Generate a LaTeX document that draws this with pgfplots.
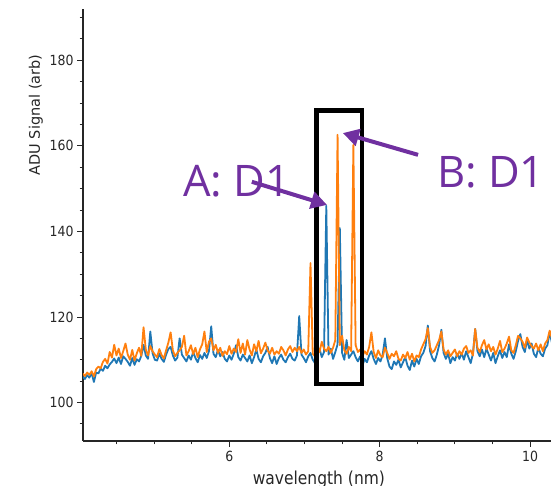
\documentclass[border=0pt]{standalone}
\usepackage{pgfplots}
\pgfplotsset{compat=1.18}
\usepackage{pgfplotstable}
\usepackage{fontspec}
\setmainfont{DejaVu Sans}
\newfontfamily\annfont{Open Sans}
\usetikzlibrary{arrows.meta}
\definecolor{mplblue}{HTML}{1F77B4}
\definecolor{mplorange}{HTML}{FF7F0E}
\definecolor{annpurple}{HTML}{7030A0}

\pgfplotstableread{
x b o
4.05 106.0 106.8
4.08 105.5 106.2
4.11 106.4 107.0
4.14 105.8 106.5
4.17 106.9 107.3
4.20 104.8 106.1
4.23 107.0 107.8
4.26 106.8 108.4
4.29 107.9 108.0
4.32 107.4 109.5
4.35 108.6 110.2
4.38 108.0 109.1
4.41 108.9 111.8
4.44 109.5 110.5
4.47 110.3 113.5
4.50 109.2 111.0
4.53 110.5 112.6
4.56 109.0 110.4
4.59 110.8 112.0
4.62 110.2 113.8
4.65 109.5 111.2
4.68 108.6 110.0
4.71 110.4 112.3
4.74 108.8 109.8
4.77 110.1 111.5
4.80 109.6 112.8
4.83 110.9 110.9
4.86 113.5 117.6
4.89 111.0 112.4
4.92 110.2 111.0
4.95 116.6 113.2
4.98 111.5 112.0
5.01 110.0 111.2
5.04 109.8 110.6
5.07 111.4 112.5
5.10 110.2 111.1
5.13 109.5 110.3
5.16 111.2 112.2
5.19 112.5 114.0
5.22 113.0 116.4
5.25 111.0 112.2
5.28 109.8 110.8
5.31 110.5 111.6
5.34 115.0 112.2
5.37 111.2 113.0
5.40 110.4 115.6
5.43 109.6 111.0
5.46 111.0 112.0
5.49 110.0 113.4
5.52 111.8 111.3
5.55 110.4 112.8
5.58 109.4 110.6
5.61 111.1 112.4
5.64 110.2 113.6
5.67 111.6 116.6
5.70 110.4 111.8
5.73 112.0 114.2
5.76 117.8 115.0
5.79 111.4 112.2
5.82 110.6 113.5
5.85 112.3 111.6
5.88 110.8 112.8
5.91 111.8 110.9
5.94 110.2 112.0
5.97 109.6 111.3
6.00 111.0 113.2
6.03 110.0 111.4
6.06 111.4 112.6
6.09 113.4 111.8
6.12 110.6 114.8
6.15 109.8 111.6
6.18 111.2 113.8
6.21 110.4 111.2
6.24 109.6 114.6
6.27 111.0 112.4
6.30 109.2 111.0
6.33 110.6 113.6
6.36 112.4 112.0
6.39 110.2 114.4
6.42 109.4 111.5
6.45 110.8 112.6
6.48 111.6 114.0
6.51 113.0 112.2
6.54 110.4 111.4
6.57 109.2 112.8
6.60 110.8 111.2
6.63 109.0 112.0
6.66 110.4 111.4
6.69 111.2 113.0
6.72 110.0 112.2
6.75 109.4 111.0
6.78 110.6 112.4
6.81 111.4 113.2
6.84 110.2 111.8
6.87 109.8 112.8
6.90 111.0 112.0
6.93 120.2 113.0
6.96 111.2 111.6
6.99 110.4 112.4
7.02 109.4 111.2
7.05 110.8 112.0
7.08 111.6 132.6
7.11 110.0 111.4
7.14 109.2 110.8
7.17 111.4 113.2
7.20 112.6 111.8
7.23 110.6 114.2
7.26 111.8 112.6
7.29 146.0 112.0
7.32 111.2 113.0
7.35 112.6 111.6
7.38 110.2 112.8
7.41 111.8 114.6
7.44 113.6 162.6
7.47 140.8 113.4
7.50 111.6 115.6
7.53 110.0 112.2
7.56 114.6 111.4
7.59 110.4 113.0
7.62 111.2 112.0
7.65 112.0 160.2
7.68 110.6 113.4
7.71 109.6 111.8
7.74 110.8 112.4
7.77 108.6 110.8
7.80 110.2 112.0
7.83 109.4 111.2
7.86 111.0 113.0
7.89 112.0 116.4
7.92 110.2 111.8
7.95 109.0 110.4
7.98 110.4 112.2
8.01 109.6 111.0
8.04 111.2 110.6
8.07 115.0 112.8
8.10 110.4 111.6
8.13 108.4 110.2
8.16 107.8 111.4
8.19 109.6 110.8
8.22 108.8 112.0
8.25 110.0 110.2
8.28 108.2 109.8
8.31 109.4 111.2
8.34 110.6 110.4
8.37 108.6 111.8
8.40 107.6 110.0
8.43 109.8 111.4
8.46 108.4 109.6
8.49 110.2 111.0
8.52 109.0 110.6
8.55 110.8 112.4
8.58 111.6 113.6
8.61 113.2 114.8
8.64 118.0 117.4
8.67 112.0 113.0
8.70 110.4 111.6
8.73 109.6 112.2
8.76 111.2 113.4
8.79 113.4 114.6
8.82 117.0 116.6
8.85 111.6 112.4
8.88 110.2 111.2
8.91 111.4 112.2
8.94 109.2 110.8
8.97 110.6 111.6
9.00 109.8 112.4
9.03 111.4 110.8
9.06 110.2 112.0
9.09 111.6 111.2
9.12 110.0 112.6
9.15 112.0 113.2
9.18 110.6 111.6
9.21 109.2 112.2
9.24 111.4 111.0
9.27 117.2 117.2
9.30 112.0 112.8
9.33 110.8 111.8
9.36 112.4 113.4
9.39 110.6 114.6
9.42 112.6 112.4
9.45 111.2 113.6
9.48 109.8 112.0
9.51 111.6 113.0
9.54 109.2 111.2
9.57 110.8 112.6
9.60 112.2 114.4
9.63 110.4 111.8
9.66 111.8 112.6
9.69 110.6 113.8
9.72 113.6 115.4
9.75 111.4 112.2
9.78 110.2 111.6
9.81 112.0 113.4
9.84 114.4 115.6
9.87 116.0 115.0
9.90 113.0 114.2
9.93 111.8 112.8
9.96 114.6 115.2
9.99 112.6 114.0
10.02 113.8 113.2
10.05 111.4 112.6
10.08 110.6 113.8
10.11 112.8 112.2
10.14 111.4 113.6
10.17 110.8 112.0
10.20 112.6 113.8
10.23 113.4 114.6
10.26 116.4 116.8
10.29 114.0 115.0
}\spectra

\begin{document}
\begin{tikzpicture}
\path[use as bounding box] (0,0) rectangle (551pt,486pt);
\begin{axis}[
  at={(83pt,45pt)}, anchor=south west,
  scale only axis, width=468pt, height=432pt,
  xmin=4.055, xmax=10.278, ymin=91.0, ymax=192.0,
  axis lines*=left,
  axis line style={-, black!85, line width=1.1pt},
  tick align=outside,
  tick style={black!85, line width=0.9pt},
  major tick length=6pt, minor tick length=3.5pt,
  xtick={6,8,10},
  minor xtick={4.5,5,5.5,6.5,7,7.5,8.5,9,9.5,10.5},
  ytick={100,120,140,160,180},
  minor ytick={95,105,110,115,125,130,135,145,150,155,165,170,175,185,190},
  ticklabel style={font=\fontsize{12.5}{15}\selectfont, text=black!85, yscale=1.12},
  /pgf/number format/assume math mode=true,
  clip mode=individual,
]
\addplot[mplblue, line width=1.8pt, line join=round] table[x=x, y=b] {\spectra};
\addplot[mplorange, line width=1.8pt, line join=round] table[x=x, y=o] {\spectra};

\draw[black, line width=4.5pt] (axis cs:7.16,104.3) rectangle (axis cs:7.765,168.3);

\node[anchor=base west, inner sep=0pt, text=annpurple,
  font=\annfont\fontsize{43.5}{43.5}\selectfont] at (axis cs:5.384,148.1) {A: D1};
\node[anchor=base west, inner sep=0pt, text=annpurple,
  font=\annfont\fontsize{43.5}{43.5}\selectfont] at (axis cs:8.762,150.2) {B: D1};

\draw[annpurple, line width=4pt, -{Triangle[length=16pt,width=17pt]}]
  (axis cs:6.30,151.6) -- (axis cs:7.30,146.2);
\draw[annpurple, line width=4pt, -{Triangle[length=16pt,width=17pt]}]
  (axis cs:8.51,157.9) -- (axis cs:7.51,163.0);

\node[rotate=90, anchor=base, inner sep=0pt, text=black!85,
  font=\fontsize{14.5}{17}\selectfont] at (rel axis cs:-0.0919,0.7546) {ADU Signal (arb)};
\node[anchor=base, inner sep=0pt, text=black!85, yscale=1.15,
  font=\fontsize{15.5}{18}\selectfont] at (rel axis cs:0.504,-0.1) {wavelength (nm)};
\end{axis}
\end{tikzpicture}
\end{document}
